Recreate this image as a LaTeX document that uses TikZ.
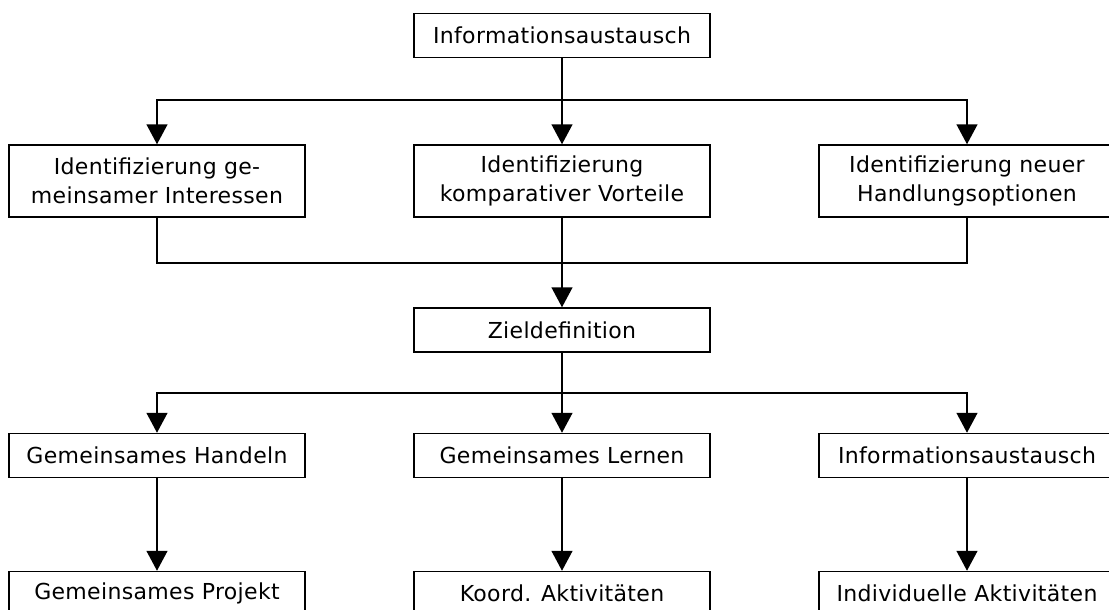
\documentclass[tikz,border=0pt]{standalone}
\usepackage{fontspec}
\setmainfont[LetterSpace=1.5]{DejaVu Sans}
\usetikzlibrary{arrows.meta}
\begin{document}
\begin{tikzpicture}[x=1pt,y=-1pt,
  box/.style={draw,line width=1.5pt,inner sep=0pt,minimum width=296pt,align=center,
    font=\fontsize{22}{29}\selectfont},
  onebox/.style={box,minimum height=44pt},
  twobox/.style={box,minimum height=72pt},
  conn/.style={line width=1.5pt},
  arr/.style={conn,-{Triangle[width=21pt,length=20pt]}}]
\useasboundingbox (0,0) rectangle (1109,610);
\clip (0,0) rectangle (1109,610);
\fill[white] (0,0) rectangle (1109,610);
% nodes
\node[onebox] (T) at (562,35.5) {Informationsaustausch};
\node[twobox] (A) at (157,181) {Identifizierung ge-\\meinsamer Interessen};
\node[twobox] (B) at (562,181) {Identifizierung\\komparativer Vorteile};
\node[twobox] (C) at (967,181) {Identifizierung neuer\\Handlungsoptionen};
\node[onebox] (Z) at (562,330) {Zieldefinition};
\node[onebox] (D) at (157,455.5) {Gemeinsames Handeln};
\node[onebox] (E) at (562,455.5) {Gemeinsames Lernen};
\node[onebox] (F) at (967,455.5) {Informationsaustausch};
\node[onebox] (G) at (157,593.5) {Gemeinsames Projekt};
\node[onebox] (H) at (562,593.5) {Koord. Aktivit\"aten};
\node[onebox] (I) at (967,593.5) {Individuelle Aktivit\"aten};
% junctions
\coordinate (s1) at (562,100);
\coordinate (s2) at (562,263);
\coordinate (s3) at (562,393);
% connectors
\draw[arr] (T.south) -- (B.north);
\draw[arr] (s1) -| (A.north);
\draw[arr] (s1) -| (C.north);
\draw[conn] (A.south) |- (s2) -| (C.south);
\draw[arr] (B.south) -- (Z.north);
\draw[arr] (Z.south) -- (E.north);
\draw[arr] (s3) -| (D.north);
\draw[arr] (s3) -| (F.north);
\draw[arr] (D.south) -- (G.north);
\draw[arr] (E.south) -- (H.north);
\draw[arr] (F.south) -- (I.north);
\end{tikzpicture}
\end{document}
